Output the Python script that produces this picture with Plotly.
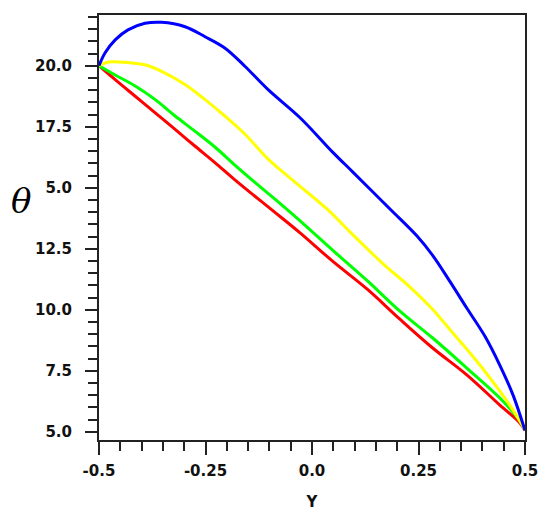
import plotly.graph_objects as go

# curve data (theta vs Y)
blue_x = [-0.5, -0.486, -0.462, -0.432, -0.392, -0.353, -0.298, -0.251, -0.204, -0.157, -0.103,
          -0.028, 0.049, 0.096, 0.183, 0.246, 0.284, 0.324, 0.364, 0.406, 0.441, 0.472, 0.5]
blue_y = [20.0, 20.52, 21.06, 21.47, 21.74, 21.78, 21.60, 21.19, 20.72, 19.97, 19.02,
          17.87, 16.45, 15.64, 14.13, 13.03, 12.21, 11.15, 10.05, 8.91, 7.72, 6.50, 5.05]

yellow_x = [-0.5, -0.478, -0.432, -0.392, -0.353, -0.298, -0.251, -0.204, -0.157, -0.103, -0.040,
            0.035, 0.089, 0.167, 0.230, 0.284, 0.324, 0.387, 0.441, 0.488, 0.5]
yellow_y = [20.0, 20.15, 20.13, 20.04, 19.77, 19.23, 18.61, 17.93, 17.19, 16.17, 15.23,
            14.13, 13.19, 11.88, 10.93, 10.0, 9.18, 7.89, 6.66, 5.44, 5.05]

green_x = [-0.5, -0.462, -0.415, -0.368, -0.322, -0.275, -0.228, -0.181, -0.134, -0.087,
           -0.028, 0.049, 0.129, 0.207, 0.284, 0.364, 0.441, 0.488, 0.5]
green_y = [20.0, 19.62, 19.17, 18.61, 17.95, 17.32, 16.67, 15.93, 15.22, 14.53,
           13.64, 12.43, 11.20, 9.93, 8.83, 7.60, 6.38, 5.44, 5.05]

red_x = [-0.5, -0.462, -0.415, -0.368, -0.322, -0.275, -0.228, -0.181, -0.134, -0.087,
         -0.028, 0.049, 0.129, 0.207, 0.284, 0.364, 0.441, 0.488, 0.5]
red_y = [20.0, 19.43, 18.75, 18.07, 17.40, 16.71, 16.03, 15.32, 14.65, 13.99,
         13.15, 11.98, 10.85, 9.6, 8.42, 7.32, 6.09, 5.36, 5.05]

x_tickvals = [-0.5, -0.25, 0.0, 0.25, 0.5]
x_ticktext = ["-0.5", "-0.25", "0.0", "0.25", "0.5"]
y_tickvals = [5.0, 7.5, 10.0, 12.5, 15.0, 17.5, 20.0]
y_ticktext = ["5.0", "7.5", "10.0", "12.5", "5.0", "17.5", "20.0"]

fig = go.Figure()
for xs, ys, col in [(red_x, red_y, "#ff0000"), (green_x, green_y, "#00ff00"),
                    (yellow_x, yellow_y, "#ffff00"), (blue_x, blue_y, "#0000ff")]:
    fig.add_trace(go.Scatter(x=xs, y=ys, mode="lines", line=dict(color=col, width=3),
                             line_shape="spline", showlegend=False, cliponaxis=False))

tick_font = dict(family="DejaVu Sans", size=15, color="#111", weight="bold")

fig.update_xaxes(
    range=[-0.5, 0.5], tickmode="array", tickvals=x_tickvals, ticktext=x_ticktext,
    ticks="outside", ticklen=13, tickwidth=2, tickcolor="#222",
    minor=dict(ticks="outside", ticklen=9, tickwidth=2, tickcolor="#222", tick0=0, dtick=0.05),
    showline=True, linewidth=2, linecolor="#222", mirror=True, showgrid=False, zeroline=False,
    tickfont=tick_font, ticklabelstandoff=3,
    title=dict(text="Y", font=tick_font, standoff=17),
)
fig.update_yaxes(
    range=[4.66, 22.08], tickmode="array", tickvals=y_tickvals, ticktext=y_ticktext,
    ticks="outside", ticklen=12, tickwidth=2, tickcolor="#222",
    minor=dict(ticks="outside", ticklen=9, tickwidth=2, tickcolor="#222", tick0=0, dtick=0.5),
    showline=True, linewidth=2, linecolor="#222", mirror=True, showgrid=False, zeroline=False,
    tickfont=tick_font, ticklabelstandoff=10,
)

fig.add_annotation(text="θ", xref="paper", yref="paper", x=-0.212, y=0.562,
                   showarrow=False, xanchor="left", yanchor="middle",
                   font=dict(family="DejaVu Serif", size=34, color="black", style="italic"))

# the page body adds an 8px margin, so the figure is a bit smaller than the window
fig.update_layout(
    width=542, height=510, margin=dict(l=91, r=25, t=5, b=78),
    paper_bgcolor="white", plot_bgcolor="white",
)

fig.write_html("out.html")
